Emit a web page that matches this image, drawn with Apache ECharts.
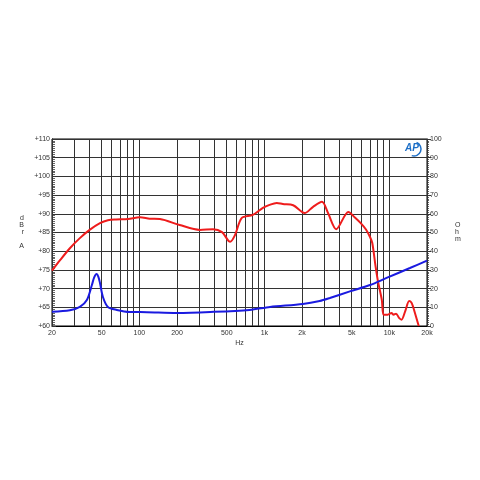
<!DOCTYPE html>
<html>
<head>
<meta charset="utf-8">
<script src="https://cdn.jsdelivr.net/npm/echarts@6/dist/echarts.min.js"></script>
<style>html,body{margin:0;background:#fff}#chart{width:480px;height:480px}</style>
</head>
<body>
<div id="chart"></div>
<script>
// x axis (Hz), drawn on a log10 scale
const freqLabels = [20, 50, 100, 200, 500, 1000, 2000, 5000, 10000, 20000];
const freqLabelText = ['20', '50', '100', '200', '500', '1k', '2k', '5k', '10k', '20k'];
const gridFreqs = [20, 30, 40, 50, 60, 70, 80, 90, 100, 200, 300, 400, 500, 600, 700, 800, 900,
  1000, 2000, 3000, 4000, 5000, 6000, 7000, 8000, 9000, 10000, 20000];

// frequency response (dBrA), red
const splFreq = [20, 23.2, 27.8, 33.4, 40, 48.4, 56, 65, 81, 101, 121, 146, 210, 305, 389, 458, 532, 582,
  660, 808, 973, 1100, 1257, 1405, 1700, 2100, 2440, 2890, 3230, 3760, 4700, 5300, 5900, 6500, 7000,
  7300, 7750, 8100, 8700, 9000, 9700, 10400, 10800, 11300, 12000, 12500, 13400, 14400, 15000, 15500, 16900, 17200];
const splDb = [74.8, 77.6, 80.8, 83.5, 85.7, 87.5, 88.3, 88.5, 88.6, 89.1, 88.7, 88.6, 87.0, 85.7, 85.9, 85.1, 82.5, 84.3,
  88.9, 89.7, 91.6, 92.4, 92.9, 92.6, 92.3, 90.2, 91.8, 93.2, 90.2, 85.9, 90.5, 89.0, 87.5, 85.8, 83.8,
  82.2, 76.0, 72.0, 67.0, 63.0, 63.0, 63.5, 63.0, 63.3, 62.1, 61.7, 64.0, 66.7, 66.3, 65.1, 60.8, 60.0];

// impedance (Ohm), blue
const impFreq = [20, 27.8, 33.4, 38, 41.7, 43.5, 45.5, 47, 48.4, 51.1, 56, 66, 84, 115, 200, 370, 760, 1110,
  2030, 2770, 3340, 4830, 7000, 9500, 14600, 20000];
const impOhm = [7.6, 8.4, 10.2, 13.9, 21.9, 26.0, 27.8, 26.3, 23.0, 15.5, 10.2, 8.6, 7.5, 7.4, 7.0, 7.5, 8.6, 10.2,
  11.8, 13.4, 15.0, 18.5, 21.9, 25.7, 31.0, 35.0];

const lg = v => Math.log10(v);
const font = { fontFamily: 'Liberation Sans', fontSize: 7, color: '#333' };

const chart = echarts.init(document.getElementById('chart'));
chart.setOption({
  animation: false,
  backgroundColor: '#fff',
  grid: { left: 52, right: 53, top: 139, bottom: 154, show: true, borderColor: '#000', borderWidth: 1 },
  xAxis: {
    type: 'value',
    min: lg(20),
    max: lg(20000),
    name: 'Hz',
    nameLocation: 'middle',
    nameGap: 14,
    nameTextStyle: font,
    axisLine: { show: true, lineStyle: { color: '#000', width: 1 } },
    axisTick: {
      show: true, inside: true, length: 187,
      customValues: gridFreqs.map(lg),
      lineStyle: { color: '#333', width: 1 }
    },
    axisLabel: {
      ...font,
      margin: 4,
      customValues: freqLabels.map(lg),
      formatter: v => {
        const i = freqLabels.findIndex(f => Math.abs(lg(f) - v) < 1e-6);
        return i >= 0 ? freqLabelText[i] : '';
      }
    },
    splitLine: { show: false }
  },
  yAxis: [{
    type: 'value',
    min: 60, max: 110, interval: 5,
    name: 'd\nB\nr\n\nA',
    nameLocation: 'middle',
    nameRotate: 0,
    nameGap: 28,
    nameTextStyle: { ...font, lineHeight: 7 },
    axisLine: { show: true, lineStyle: { color: '#000' } },
    axisTick: { show: true, inside: true, length: 4, lineStyle: { color: '#333' } },
    minorTick: { show: true, splitNumber: 10, length: 3, lineStyle: { color: '#666' } },
    axisLabel: { ...font, margin: 2, formatter: v => '+' + v },
    splitLine: { show: true, lineStyle: { color: '#333', width: 1 } }
  }, {
    type: 'value',
    min: 0, max: 100, interval: 10,
    name: 'O\nh\nm',
    nameLocation: 'middle',
    nameRotate: 0,
    nameGap: 28,
    nameTextStyle: { ...font, lineHeight: 7 },
    axisLine: { show: true, lineStyle: { color: '#000' } },
    axisTick: { show: true, length: 4, lineStyle: { color: '#333' } },
    minorTick: { show: true, splitNumber: 10, length: 2, lineStyle: { color: '#666' } },
    axisLabel: { ...font, margin: 3 },
    splitLine: { show: false }
  }],
  graphic: [{
    type: 'group', left: 405, top: 140,
    children: [
      { type: 'arc', shape: { cx: 10, cy: 7, r: 7, startAngle: -1.2, endAngle: 1.9 }, style: { stroke: '#1d6fc7', lineWidth: 1.5, fill: 'none' } },
      { type: 'text', x: 1, y: 1, style: { text: 'AP', fill: '#1d6fc7', font: 'italic bold 10px Liberation Sans' } }
    ]
  }],
  series: [{
    type: 'line',
    yAxisIndex: 0,
    data: splFreq.map((f, i) => [lg(f), splDb[i]]),
    smooth: 0.3,
    showSymbol: false,
    lineStyle: { color: '#ee1c1c', width: 2 }
  }, {
    type: 'line',
    yAxisIndex: 1,
    data: impFreq.map((f, i) => [lg(f), impOhm[i]]),
    smooth: 0.3,
    showSymbol: false,
    lineStyle: { color: '#1a1ae0', width: 2 }
  }]
});
</script>
</body>
</html>
